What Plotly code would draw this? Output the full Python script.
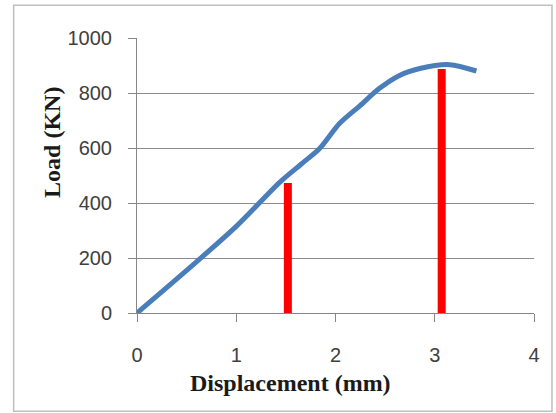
import plotly.graph_objects as go

# Load-displacement curve
displacement = [0, 0.5, 1.0, 1.44, 1.65, 1.84, 2.04, 2.25, 2.44, 2.645, 2.85, 3.15, 3.42]
load = [0, 155, 315, 476, 540, 598, 689, 755, 816, 864, 889, 903, 880]

# Red marker bars
bar_x = [1.52, 3.07]
bar_top = [473, 887]

x_ticks = [0, 1, 2, 3, 4]
y_ticks = [0, 200, 400, 600, 800, 1000]

fig = go.Figure()

for bx, bt in zip(bar_x, bar_top):
    fig.add_trace(go.Scatter(x=[bx, bx], y=[0, bt], mode="lines",
                             line=dict(color="#ff0000", width=8),
                             showlegend=False, hoverinfo="skip"))

fig.add_trace(go.Scatter(x=displacement, y=load, mode="lines",
                         line=dict(color="#4A7EBB", width=5, shape="spline", smoothing=0.8),
                         showlegend=False))

tick_font = dict(family="Liberation Sans, Arial, sans-serif", size=20, color="#404040")

fig.update_xaxes(range=[0, 4], tickvals=x_ticks, ticktext=[str(t) for t in x_ticks],
                 showgrid=False, zeroline=False, showline=True, linecolor="#868686",
                 linewidth=1, ticks="outside", ticklen=8, tickcolor="#868686",
                 tickfont=tick_font, ticklabelstandoff=16)
fig.update_yaxes(range=[0, 1000], tickvals=y_ticks, ticktext=[str(t) for t in y_ticks],
                 showgrid=True, gridcolor="#8c8c8c", gridwidth=1, zeroline=False,
                 showline=True, linecolor="#868686", linewidth=1,
                 ticks="outside", ticklen=8, tickcolor="#868686",
                 tickfont=tick_font, ticklabelstandoff=12)

title_font = dict(family="Liberation Serif, Times New Roman, serif", size=24, color="#1a1a1a")
fig.add_annotation(text="<b>Displacement (mm)</b>", xref="paper", yref="paper",
                   x=0.386, y=-0.254, xanchor="center", yanchor="middle",
                   showarrow=False, font=title_font, borderpad=0)
fig.add_annotation(text="<b>Load (KN)</b>", xref="paper", yref="paper",
                   x=-0.2126, y=0.6207, xanchor="center", yanchor="middle",
                   textangle=-90, showarrow=False, font=title_font)

# outer chart border
fig.add_shape(type="rect", xref="paper", yref="paper",
              x0=(13 - 136.5) / 397.5, x1=(552 - 136.5) / 397.5,
              y0=(312.7 - 411) / 275, y1=(312.7 - 5) / 275,
              line=dict(color="#bfbfbf", width=1.5), layer="below")

fig.update_layout(width=556, height=413,
                  margin=dict(l=136.5, r=22, t=37.7, b=100.3),
                  paper_bgcolor="white", plot_bgcolor="white")

fig.write_html("out.html")
